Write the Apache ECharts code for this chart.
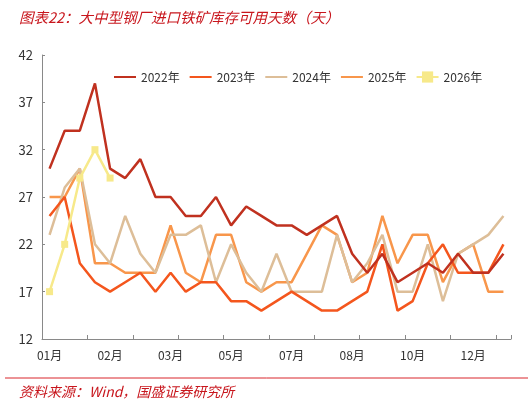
<!DOCTYPE html>
<html style="height: 100%">
<head>
<meta charset="utf-8">
<script src="https://cdn.jsdelivr.net/npm/echarts@6/dist/echarts.min.js"></script>
</head>
<body style="height: 100%; margin: 0; background: #fff">
<div id="main" style="width: 531px; height: 403px"></div>
<script>
// ~10-day observations, 31 per year
var tickLabels = ['01月', '02月', '03月', '05月', '07月', '08月', '10月', '12月'];
var categories = [];
for (var i = 0; i < 31; i++) categories.push(String(i));

var names = ['2022年', '2023年', '2024年', '2025年', '2026年'];
var colors = ['#C0311F', '#F4561D', '#DDBE98', '#F8964B', '#F7E98A'];

var y2022 = [30, 34, 34, 39, 30, 29, 31, 27, 27, 25, 25, 27, 24, 26, 25, 24, 24, 23, 24, 25, 21, 19, 21, 18, 19, 20, 19, 21, 19, 19, 21];
var y2023 = [25, 27, 20, 18, 17, 18, 19, 17, 19, 17, 18, 18, 16, 16, 15, 16, 17, 16, 15, 15, 16, 17, 22, 15, 16, 20, 22, 19, 19, 19, 22];
var y2024 = [23, 28, 30, 22, 20, 25, 21, 19, 23, 23, 24, 18, 22, 19, 17, 21, 17, 17, 17, 23, 18, 20, 23, 17, 17, 22, 16, 21, 22, 23, 25];
var y2025 = [27, 27, 30, 20, 20, 19, 19, 19, 24, 19, 18, 23, 23, 18, 17, 18, 18, 21, 24, 23, 18, 19, 25, 20, 23, 23, 18, 21, 22, 17, 17];
var y2026 = [17, 22, 29, 32, 29];

var allData = [y2022, y2023, y2024, y2025, y2026];

var chart = echarts.init(document.getElementById('main'));

var series = allData.map(function (d, k) {
    var s = {
        name: names[k],
        type: 'line',
        data: d,
        lineStyle: {width: 2.5, color: colors[k]},
        itemStyle: {color: colors[k]},
        symbol: 'none',
        z: 10 - k
    };
    if (k === 4) {
        s.symbol = 'rect';
        s.symbolSize = 7;
        s.z = 12;
    }
    return s;
});
series[0].z = 11;

// plain line icons in legend, except 2026 which keeps its square
var legendData = names.map(function (n, k) {
    if (k === 4) return {name: n};
    return {name: n, itemStyle: {opacity: 0}};
});

var option = {
    animation: false,
    textStyle: {fontFamily: 'Noto Sans CJK SC'},
    title: [
        {
            text: '图表22：大中型钢厂进口铁矿库存可用天数（天）',
            left: 14, top: 5,
            textStyle: {color: '#C8161D', fontSize: 14.5, fontStyle: 'italic', fontWeight: 'normal', fontFamily: 'Noto Sans CJK SC'}
        },
        {
            text: '资料来源：Wind，国盛证券研究所',
            left: 14, top: 380,
            textStyle: {color: '#C8161D', fontSize: 14, fontStyle: 'italic', fontWeight: 'normal', fontFamily: 'Noto Sans CJK SC'}
        }
    ],
    graphic: [
        {
            type: 'line',
            shape: {x1: 5, y1: 378, x2: 528, y2: 378},
            style: {stroke: '#D9262C', lineWidth: 1}
        }
    ],
    legend: {
        data: legendData,
        left: 108, top: 66,
        itemWidth: 22, itemHeight: 14, itemGap: 9,
        textStyle: {color: '#333', fontSize: 12}
    },
    grid: {left: 42, right: 20, top: 55, bottom: 64},
    xAxis: {
        type: 'category',
        data: categories,
        boundaryGap: true,
        axisLine: {lineStyle: {color: '#898989', width: 1}},
        axisTick: {show: true, inside: true, length: 4, interval: 2, lineStyle: {color: '#898989'}},
        axisLabel: {
            interval: 3,
            margin: 10,
            color: '#333',
            fontSize: 12,
            formatter: function (v, idx) {
                return tickLabels[Math.floor(idx / 4)] || '';
            }
        },
        splitLine: {show: false}
    },
    yAxis: {
        type: 'value',
        min: 12, max: 42, interval: 5,
        axisLine: {show: true, lineStyle: {color: '#898989', width: 1}},
        axisTick: {show: true, inside: true, length: 3, lineStyle: {color: '#898989'}},
        axisLabel: {color: '#333', fontSize: 13, margin: 9},
        splitLine: {show: false}
    },
    series: series
};

chart.setOption(option);
</script>
</body>
</html>
